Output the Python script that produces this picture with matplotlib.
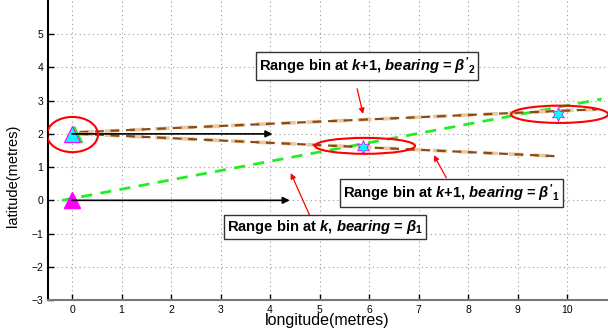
import numpy as np
import matplotlib
matplotlib.use("Agg")
import matplotlib.pyplot as plt
from matplotlib.patches import Ellipse

plt.rcParams['font.family'] = ['Liberation Sans', 'DejaVu Sans']
plt.rcParams['mathtext.fontset'] = 'custom'
plt.rcParams['mathtext.it'] = 'Liberation Sans:italic:bold'
plt.rcParams['mathtext.rm'] = 'Liberation Sans:bold'

# ---- data ----
# green bearing line (beta_1 at time k)
green_x = [-0.2, 10.7]
green_y = [0.0, 3.05]
# brown bearing lines at k+1
brown_up_x = [0.15, 10.6]
brown_up_y = [2.05, 2.74]
brown_lo_x = [0.15, 9.75]
brown_lo_y = [2.0, 1.33]
# black range arrows (start, end)
range_arrows = [((0.0, 0.0), (4.4, 0.0)), ((0.0, 2.0), (4.05, 2.0))]
# sensor positions
sensor_x = [0.0, 0.0]
sensor_y = [0.0, 2.0]
# intersection estimates
star_x = [5.88, 9.82]
star_y = [1.62, 2.6]
# red ellipses: centre x, centre y, width, height
ell_cx = [0.01, 5.92, 9.85]
ell_cy = [1.98, 1.64, 2.59]
ell_w = [1.03, 2.02, 1.96]
ell_h = [1.06, 0.48, 0.52]
# annotations: text, text position, arrow tail, arrow head
labels = [r"Range bin at $\mathit{k{+}1}$, $\mathit{bearing}$ = $\beta'_{2}$",
          r"Range bin at $\mathit{k{+}1}$, $\mathit{bearing}$ = $\beta'_{1}$",
          r"Range bin at $\mathit{k}$, $\mathit{bearing}$ = $\beta_{1}$"]
label_pos = [(5.96, 4.03), (7.67, 0.21), (5.11, -0.8)]
arrow_tail = [(5.76, 3.36), (7.56, 0.68), (4.8, -0.45)]
arrow_head = [(5.88, 2.6), (7.31, 1.36), (4.42, 0.82)]

fig = plt.figure(figsize=(6.08, 3.29), dpi=100)
ax = fig.add_axes([48 / 608, 29 / 329, (616.5 - 48) / 608, 299 / 329])

ax.plot(green_x, green_y, color='#22ee22', ls=(0, (4, 3)), lw=2)
for xs, ys in [(brown_up_x, brown_up_y), (brown_lo_x, brown_lo_y)]:
    ax.plot(xs, ys, color='#e8c8a0', ls=(0, (4, 3)), lw=2.6)
    ax.plot(xs, ys, color='#8a4c14', ls=(0, (4, 3)), lw=1.6)

for (x0, y0), (x1, y1) in range_arrows:
    ax.annotate('', xy=(x1, y1), xytext=(x0, y0),
                arrowprops=dict(arrowstyle='-|>', color='black', lw=1.2,
                                mutation_scale=10, shrinkA=0, shrinkB=0))

ax.plot(sensor_x[0], sensor_y[0], marker='^', ms=11, color='magenta', ls='none')
ax.plot(sensor_x[1] + 0.05, sensor_y[1], marker='^', ms=11, color='#22ee22', ls='none')
ax.plot(sensor_x[1], sensor_y[1], marker='^', ms=11, mfc='cyan', mec='magenta',
        mew=0.8, ls='none')
ax.scatter(star_x, star_y, marker=(6, 1, 0), s=100, c='cyan', edgecolors='magenta',
           linewidths=0.6, zorder=4)

for cx, cy, w, h in zip(ell_cx, ell_cy, ell_w, ell_h):
    ax.add_patch(Ellipse((cx, cy), w, h, fill=False, ec='red', lw=1.5, zorder=5))

for txt, pos, tail, head in zip(labels, label_pos, arrow_tail, arrow_head):
    ax.text(pos[0], pos[1], txt, ha='center', va='center', fontsize=10.6,
            fontweight='bold', zorder=6,
            bbox=dict(boxstyle='square,pad=0.22', fc='white', ec='#333333', lw=1))
    ax.annotate('', xy=head, xytext=tail,
                arrowprops=dict(arrowstyle='-|>', color='red', lw=0.9,
                                mutation_scale=8, shrinkA=0, shrinkB=0))

ax.set_xlim(-0.485, 11)
ax.set_ylim(-3, 6)
ax.set_xticks(range(0, 11))
ax.set_yticks(range(-3, 6))
ax.set_yticklabels(['\u22123', '\u22122', '\u22121', '0', '1', '2', '3', '4', '5'])
ax.tick_params(direction='in', labelsize=7.5, length=4, width=1)
ax.grid(True, ls=(0, (1, 3)), color='#999999', lw=0.8)
ax.spines['top'].set_visible(False)
ax.spines['right'].set_visible(False)
ax.spines['left'].set_linewidth(1.5)
ax.spines['bottom'].set_color('#777777')
ax.spines['bottom'].set_linewidth(1.5)

fig.text(327 / 608, 1 - 321 / 329, 'longitude(metres)', fontsize=11.5,
         ha='center', va='center')
fig.text(13 / 608, 1 - 176 / 329, 'latitude(metres)', fontsize=10.5,
         ha='center', va='center', rotation=90)

fig.savefig('out.png', dpi=100)
